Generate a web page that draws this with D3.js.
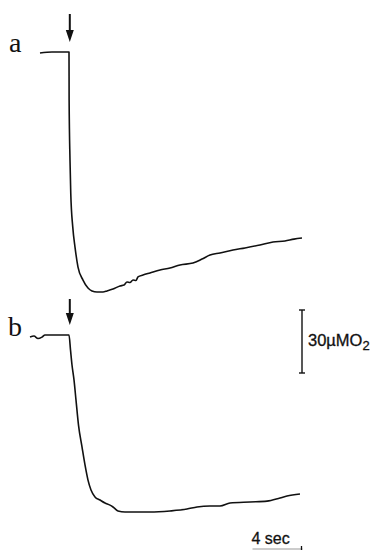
<!DOCTYPE html>
<html>
<head>
<meta charset="utf-8">
<script src="https://cdn.jsdelivr.net/npm/d3@7"></script>
<style>
  html, body { margin: 0; padding: 0; background: #fff; }
  svg { display: block; }
</style>
</head>
<body>
<svg id="chart" width="377" height="550"></svg>
<script>
// ---- data (time in s, O2 in µM relative to each trace's minimum region) ----
const traceLabels = ["a", "b"];
const injectionTime = 2.32;              // s, arrow position
const scaleBarO2 = 30;                   // µM O2
const scaleBarTime = 4;                  // s
const scaleBarO2Label = "30µMO";
const scaleBarTimeLabel = "4 sec";

const timeA = [0, 0.96, 2.32, 2.33, 2.40, 2.46, 2.62, 2.80, 3.04, 3.44, 3.84, 4.16, 4.56, 5.04, 5.36, 5.84, 6.40, 6.72, 6.96, 7.20, 7.44, 7.68, 7.84, 8.24, 8.80, 9.60, 10.40, 11.20, 12.24, 12.96, 13.60, 14.40, 15.44, 16.40, 17.60, 18.64, 19.60, 20.32, 20.96];
const o2A   = [117.6, 118.1, 118.1, 95.2, 66.7, 51.0, 34.8, 25.2, 15.7, 9.5, 5.7, 4.3, 3.8, 3.8, 4.3, 5.2, 6.7, 7.1, 8.6, 8.3, 9.5, 9.3, 11.0, 11.9, 12.9, 14.3, 15.2, 16.7, 17.6, 19.5, 21.4, 22.4, 23.8, 24.8, 26.2, 27.6, 28.1, 29.0, 29.5];

const timeB = [-0.80, -0.48, -0.16, 0.16, 0.40, 2.32, 2.44, 2.56, 2.72, 2.88, 3.08, 3.36, 3.60, 3.84, 4.08, 4.40, 4.80, 5.20, 5.60, 5.84, 6.24, 6.80, 8.80, 10.40, 11.76, 12.56, 13.60, 14.40, 15.20, 16.80, 18.16, 19.20, 19.76, 20.80];
const o2B   = [87.1, 87.6, 86.4, 87.1, 88.1, 88.1, 81.0, 73.8, 66.7, 57.1, 45.2, 34.8, 26.2, 19.0, 14.3, 11.0, 9.5, 8.1, 7.1, 6.2, 4.3, 3.8, 3.8, 4.3, 5.2, 6.2, 6.7, 6.7, 8.1, 8.6, 9.0, 10.5, 11.4, 12.4];

// ---- layout ----
const svg = d3.select("#chart");
const x = d3.scaleLinear().domain([0, 21]).range([40, 302.5]);
const pxPerUM = 2.1;
const yA = d3.scaleLinear().domain([0, 120]).range([300, 300 - 120 * pxPerUM]);
const yB = d3.scaleLinear().domain([0, 120]).range([520, 520 - 120 * pxPerUM]);

const panels = [
  { label: traceLabels[0], t: timeA, v: o2A, y: yA, labelPos: [9, 52], arrowTop: 14, arrowTip: 42 },
  { label: traceLabels[1], t: timeB, v: o2B, y: yB, labelPos: [8, 336], arrowTop: 299, arrowTip: 325 }
];

panels.forEach(p => {
  const pts = p.t.map((t, i) => [t, p.v[i]]);
  const line = d3.line()
    .x(d => x(d[0]))
    .y(d => p.y(d[1]))
    .curve(d3.curveMonotoneX);
  svg.append("path")
    .attr("d", line(pts))
    .attr("fill", "none")
    .attr("stroke", "#111")
    .attr("stroke-width", 1.6)
    .attr("stroke-linejoin", "round");

  svg.append("text")
    .attr("x", p.labelPos[0]).attr("y", p.labelPos[1])
    .attr("font-family", "Liberation Serif, serif")
    .attr("font-size", 28)
    .attr("fill", "#111")
    .text(p.label);

  // arrow
  const ax = x(injectionTime) + 0.8;
  svg.append("line")
    .attr("x1", ax).attr("x2", ax)
    .attr("y1", p.arrowTop).attr("y2", p.arrowTip - 8)
    .attr("stroke", "#111").attr("stroke-width", 2);
  svg.append("path")
    .attr("d", `M${ax - 4},${p.arrowTip - 12} L${ax + 4},${p.arrowTip - 12} L${ax},${p.arrowTip} Z`)
    .attr("fill", "#111");
});

// vertical scale bar: 30 µM O2
const sbX = 302;
const sbTop = 310;
const sbBot = sbTop + (yB(0) - yB(scaleBarO2));
svg.append("line").attr("x1", sbX).attr("x2", sbX).attr("y1", sbTop).attr("y2", sbBot)
  .attr("stroke", "#111").attr("stroke-width", 1.4);
[sbTop, sbBot].forEach(yy => {
  svg.append("line").attr("x1", sbX - 3).attr("x2", sbX + 3).attr("y1", yy).attr("y2", yy)
    .attr("stroke", "#111").attr("stroke-width", 1.4);
});
const lab = svg.append("text")
  .attr("x", 308).attr("y", 346)
  .attr("font-family", "Liberation Sans, Arial, sans-serif")
  .attr("font-size", 16.5)
  .attr("fill", "#111")
  .attr("stroke", "#111").attr("stroke-width", 0.3);
lab.append("tspan").text(scaleBarO2Label);
lab.append("tspan").attr("font-size", 13).attr("dy", 4).text("2");

// horizontal scale bar: 4 sec
const tb1 = x(21 - scaleBarTime), tb2 = x(21);
svg.append("text")
  .attr("x", tb1 - 1).attr("y", 544)
  .attr("font-family", "Liberation Sans, Arial, sans-serif")
  .attr("font-size", 16)
  .attr("fill", "#111")
  .attr("stroke", "#111").attr("stroke-width", 0.3)
  .text(scaleBarTimeLabel);
svg.append("line").attr("x1", tb1).attr("x2", tb2).attr("y1", 549).attr("y2", 549)
  .attr("stroke", "#999").attr("stroke-width", 1);
svg.append("line").attr("x1", tb2 - 1).attr("x2", tb2 - 1).attr("y1", 546).attr("y2", 550)
  .attr("stroke", "#111").attr("stroke-width", 1.3);
</script>
</body>
</html>
